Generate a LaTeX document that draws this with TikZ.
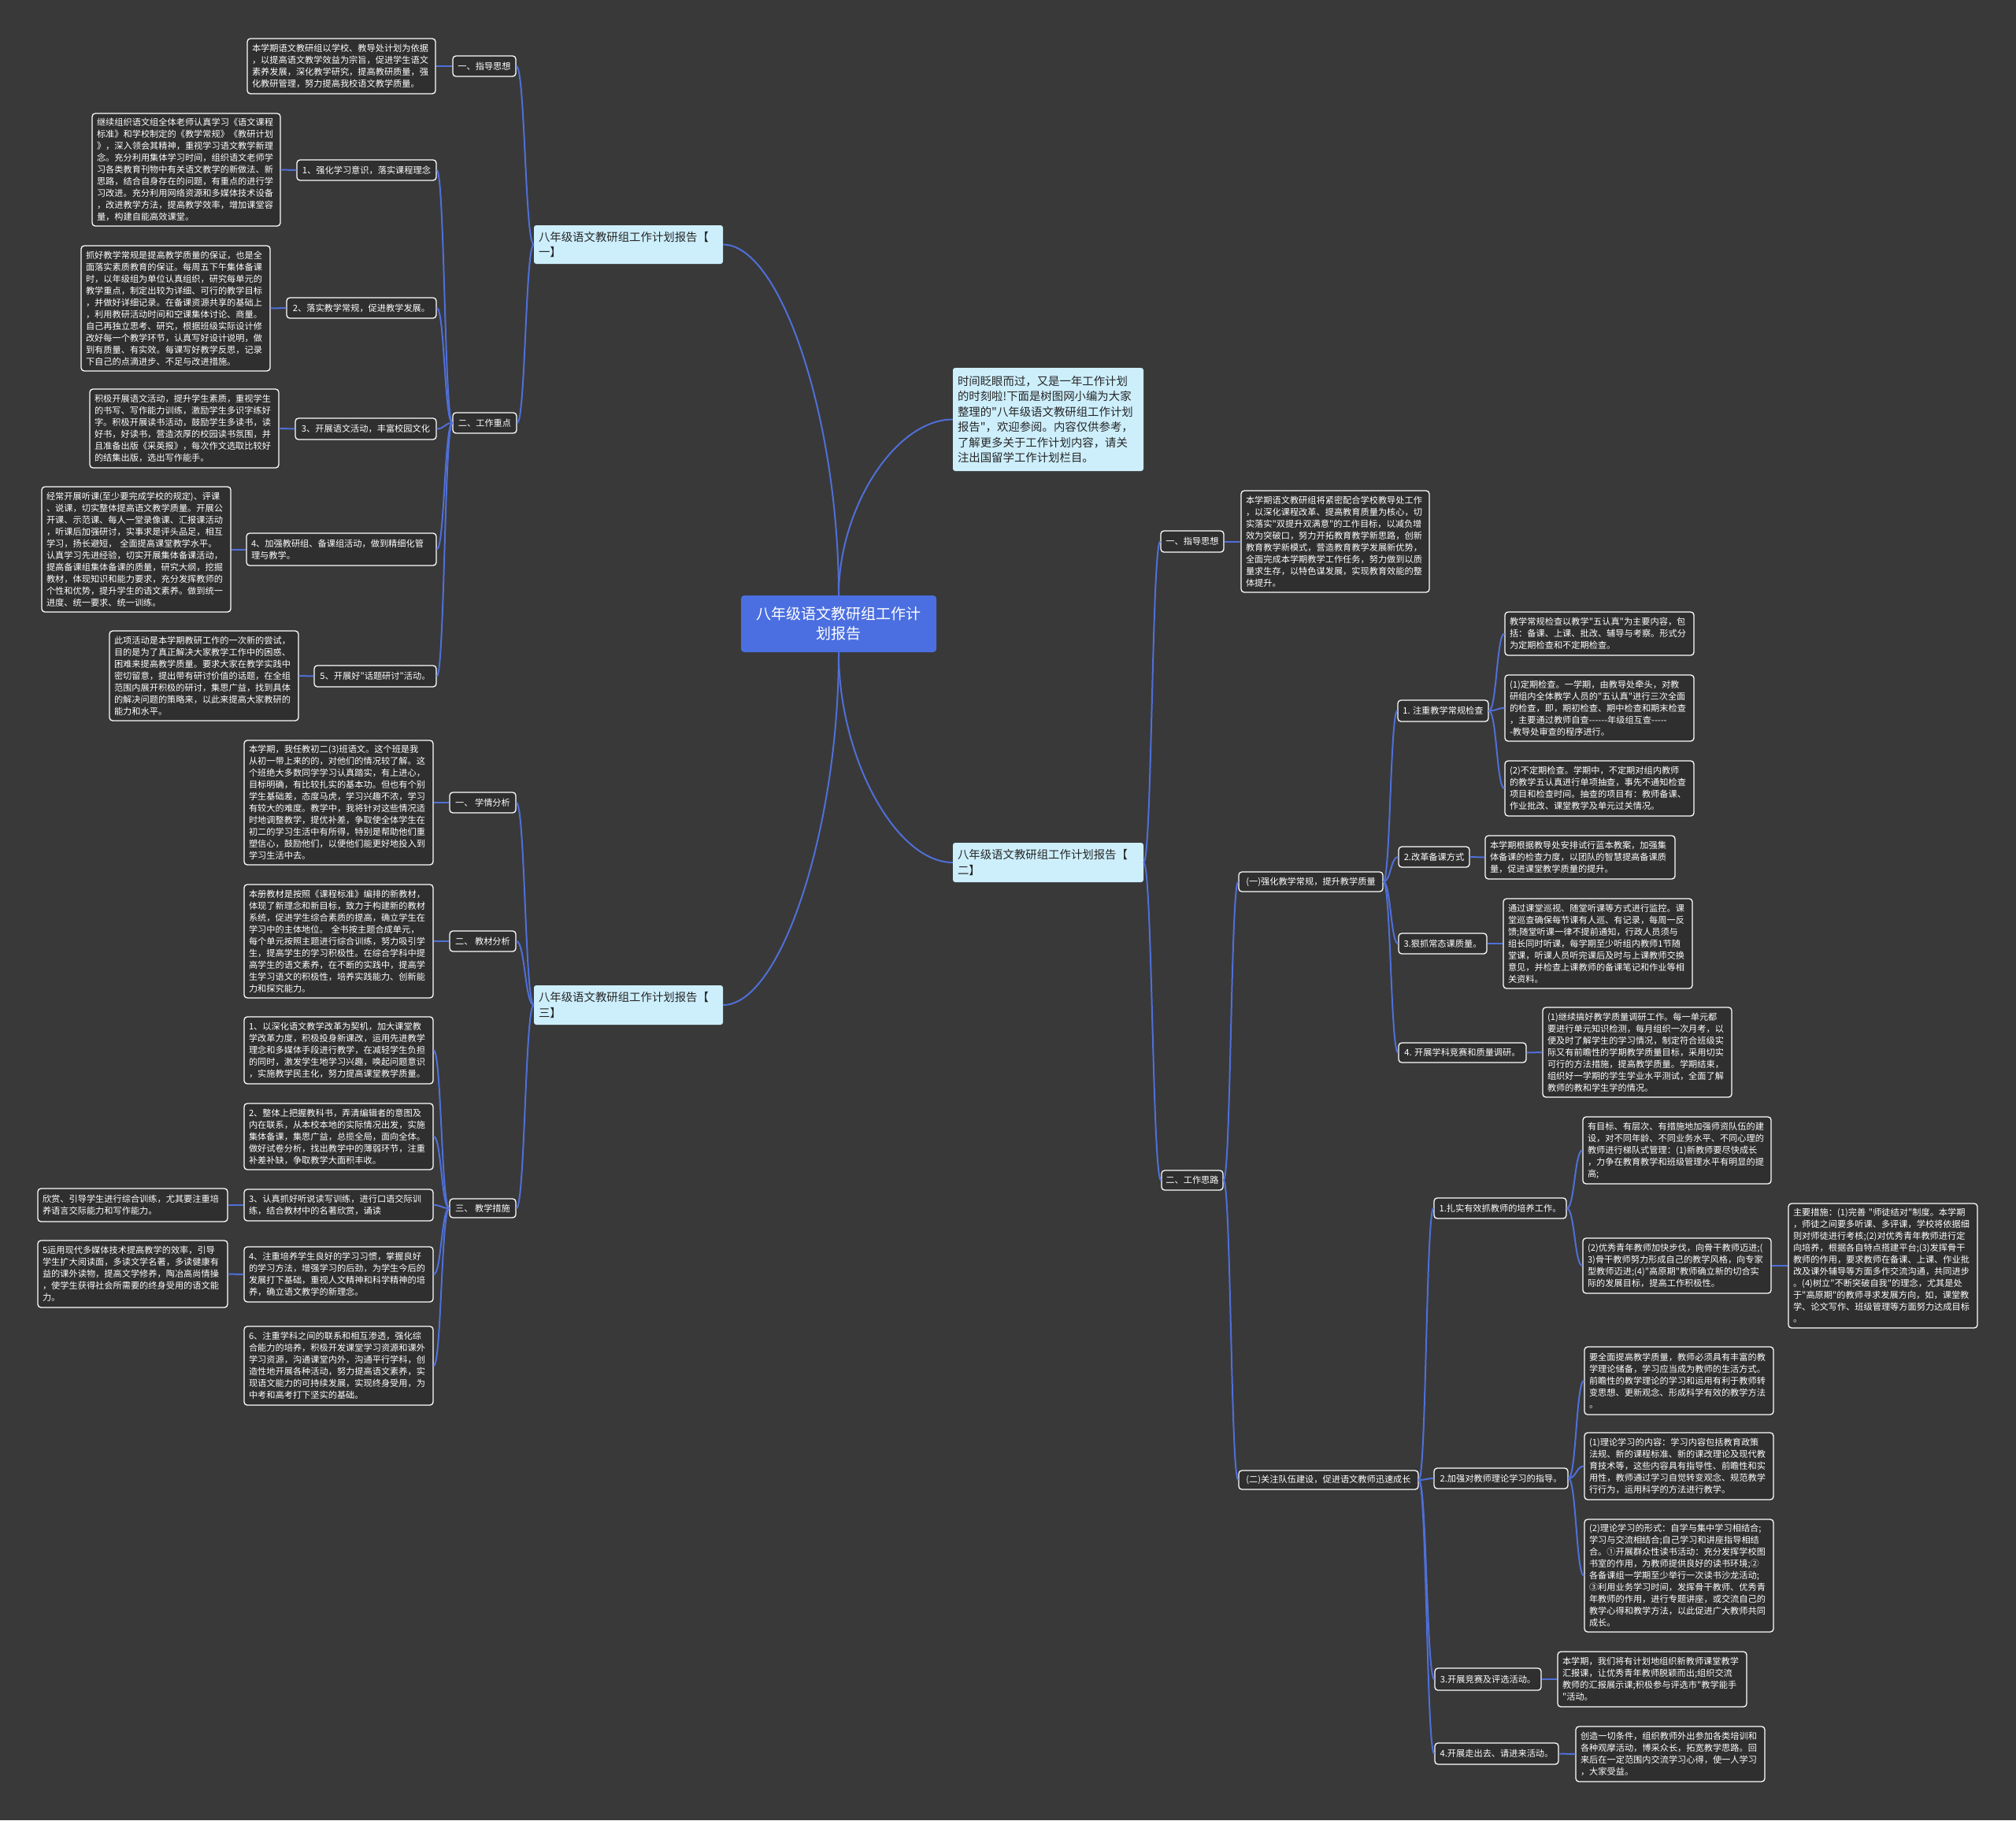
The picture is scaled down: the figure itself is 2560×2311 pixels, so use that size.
\documentclass[tikz,border=0pt]{standalone}
\usepackage{fontspec}
\newfontfamily\cjk{Noto Sans CJK SC}
\usetikzlibrary{calc}
\definecolor{bgcol}{HTML}{393939}
\definecolor{boxfill}{HTML}{2F2F2F}
\definecolor{linecol}{HTML}{4F6FD8}
\definecolor{rootblue}{HTML}{4B6FE0}
\definecolor{cyanfill}{HTML}{CDEFFC}
\tikzset{
  leaf/.style={draw=white, line width=1.3pt, fill=boxfill, rounded corners=4pt, text=white,
    font=\cjk\fontsize{11.2}{15}\selectfont, align=left, inner xsep=6pt, inner ysep=2pt},
  lab/.style={draw=white, line width=1.3pt, fill=boxfill, rounded corners=4pt, text=white,
    font=\cjk\fontsize{11.2}{15}\selectfont, inner xsep=4pt, inner ysep=2pt},
  lvl/.style={fill=cyanfill, rounded corners=3pt, text=black!85,
    font=\cjk\fontsize{14.4}{19.5}\selectfont, align=left, inner xsep=6pt, inner ysep=2pt},
  root/.style={fill=rootblue, rounded corners=4pt, text=white,
    font=\cjk\fontsize{19}{25}\selectfont, align=center},
  link/.style={draw=linecol, line width=2pt},
  conn/.style={to path={let \p1=(\tikztostart), \p2=(\tikztotarget) in
    .. controls ({(\x1+\x2)/2},\y1) and ({(\x1+\x2)/2},\y2) .. (\tikztotarget)}},
  connv/.style={to path={let \p1=(\tikztostart), \p2=(\tikztotarget) in
    .. controls (\x1,{(\y1+\y2)/2}) and ({(\x1+\x2)/2},\y2) .. (\tikztotarget)}},
}
\newcommand\mkbox[7]{%
  \pgfmathsetmacro\bxW{#5-#3}%
  \pgfmathsetmacro\bxT{#5-#3-12}%
  \pgfmathsetmacro\bxH{#6-#4}%
  \pgfmathsetmacro\bxX{(#3+#5)/2}%
  \pgfmathsetmacro\bxY{(#4+#6)/2}%
  \node[#1, text width=\bxT pt, minimum height=\bxH pt] (#2) at (\bxX,\bxY) {#7};}
\newcommand\mklab[6]{%
  \pgfmathsetmacro\bxW{#4-#2}%
  \pgfmathsetmacro\bxH{#5-#3}%
  \pgfmathsetmacro\bxX{(#2+#4)/2}%
  \pgfmathsetmacro\bxY{(#3+#5)/2}%
  \node[lab, minimum width=\bxW pt, minimum height=\bxH pt] (#1) at (\bxX,\bxY) {#6};}
\begin{document}
\begin{tikzpicture}[x=1pt,y=-1pt]
\fill[bgcol] (0,0) rectangle (2560,2311);
\useasboundingbox (0,0) rectangle (2560,2311);

% root and level 1
\node[root, minimum width=248pt, minimum height=72pt] (root) at (1065,792) {八年级语文教研组工作计\\划报告};
\mkbox{lvl}{n1}{678}{286}{918}{335}{八年级语文教研组工作计划报告【\\一】}
\mkbox{lvl}{n3}{678}{1251}{918}{1301}{八年级语文教研组工作计划报告【\\三】}
\mkbox{lvl}{n2}{1210}{1070}{1452}{1120}{八年级语文教研组工作计划报告【\\二】}
\mkbox{lvl}{intro}{1210}{467}{1452}{598}{时间眨眼而过，又是一年工作计划\\的时刻啦!下面是树图网小编为大家\\整理的"八年级语文教研组工作计划\\报告"，欢迎参阅。内容仅供参考，\\了解更多关于工作计划内容，请关\\注出国留学工作计划栏目。}

% ===== branch one (left top)
\mklab{lzd}{575}{71}{655}{97}{一、指导思想}
\mkbox{leaf}{tzd}{314}{49}{553}{119}{本学期语文教研组以学校、教导处计划为依据\\，以提高语文教学效益为宗旨，促进学生语文\\素养发展，深化教学研究，提高教研质量，强\\化教研管理，努力提高我校语文教学质量。}
\mklab{lgz}{575}{524}{656}{550}{二、工作重点}
\mklab{lq1}{377}{203}{554}{229}{1、强化学习意识，落实课程理念}
\mkbox{leaf}{tq1}{117}{144}{356}{287}{继续组织语文组全体老师认真学习《语文课程\\标准》和学校制定的《教学常规》《教研计划\\》，深入领会其精神，重视学习语文教学新理\\念。充分利用集体学习时间，组织语文老师学\\习各类教育刊物中有关语文教学的新做法、新\\思路，结合自身存在的问题，有重点的进行学\\习改进。充分利用网络资源和多媒体技术设备\\，改进教学方法，提高教学效率，增加课堂容\\量，构建自能高效课堂。}
\mklab{lq2}{364}{378}{554}{404}{2、落实教学常规，促进教学发展。}
\mkbox{leaf}{tq2}{103}{312}{343}{471}{抓好教学常规是提高教学质量的保证，也是全\\面落实素质教育的保证。每周五下午集体备课\\时，以年级组为单位认真组织，研究每单元的\\教学重点，制定出较为详细、可行的教学目标\\，并做好详细记录。在备课资源共享的基础上\\，利用教研活动时间和空课集体讨论、商量。\\自己再独立思考、研究，根据班级实际设计修\\改好每一个教学环节，认真写好设计说明，做\\到有质量、有实效。每课写好教学反思，记录\\下自己的点滴进步、不足与改进措施。}
\mklab{lq3}{375}{531}{554}{558}{3、开展语文活动，丰富校园文化}
\mkbox{leaf}{tq3}{114}{494}{354}{594}{积极开展语文活动，提升学生素质，重视学生\\的书写、写作能力训练，激励学生多识字练好\\字。积极开展读书活动，鼓励学生多读书，读\\好书，好读书，营造浓厚的校园读书氛围，并\\且准备出版《采英报》，每次作文选取比较好\\的结集出版，选出写作能手。}
\mkbox{leaf}{lq4}{313}{677}{554}{718}{4、加强教研组、备课组活动，做到精细化管\\理与教学。}
\mkbox{leaf}{tq4}{53}{618}{293}{777}{经常开展听课(至少要完成学校的规定)、评课\\、说课，切实整体提高语文教学质量。开展公\\开课、示范课、每人一堂录像课、汇报课活动\\，听课后加强研讨，实事求是评头品足，相互\\学习，扬长避短， 全面提高课堂教学水平。\\认真学习先进经验，切实开展集体备课活动，\\提高备课组集体备课的质量，研究大纲，挖掘\\教材，体现知识和能力要求，充分发挥教师的\\个性和优势，提升学生的语文素养。做到统一\\进度、统一要求、统一训练。}
\mklab{lq5}{399}{845}{554}{872}{5、开展好"话题研讨"活动。}
\mkbox{leaf}{tq5}{139}{801}{379}{915}{此项活动是本学期教研工作的一次新的尝试，\\目的是为了真正解决大家教学工作中的困惑、\\困难来提高教学质量。要求大家在教学实践中\\密切留意，提出带有研讨价值的话题，在全组\\范围内展开积极的研讨，集思广益，找到具体\\的解决问题的策略来，以此来提高大家教研的\\能力和水平。}

% ===== branch three (left bottom)
\mklab{lxq}{571}{1006}{655}{1032}{一、 学情分析}
\mkbox{leaf}{txq}{310}{940}{550}{1098}{本学期，我任教初二(3)班语文。这个班是我\\从初一带上来的的，对他们的情况较了解。这\\个班绝大多数同学学习认真踏实，有上进心，\\目标明确，有比较扎实的基本功。但也有个别\\学生基础差，态度马虎，学习兴趣不浓，学习\\有较大的难度。教学中，我将针对这些情况适\\时地调整教学，提优补差，争取使全体学生在\\初二的学习生活中有所得，特别是帮助他们重\\塑信心，鼓励他们，以便他们能更好地投入到\\学习生活中去。}
\mklab{ljc}{571}{1182}{655}{1208}{二、 教材分析}
\mkbox{leaf}{tjc}{310}{1123}{550}{1267}{本册教材是按照《课程标准》编排的新教材，\\体现了新理念和新目标，致力于构建新的教材\\系统，促进学生综合素质的提高，确立学生在\\学习中的主体地位。 全书按主题合成单元，\\每个单元按照主题进行综合训练，努力吸引学\\生，提高学生的学习积极性。在综合学科中提\\高学生的语文素养，在不断的实践中，提高学\\生学习语文的积极性，培养实践能力、创新能\\力和探究能力。}
\mklab{ljx}{571}{1522}{655}{1546}{三、 教学措施}
\mkbox{leaf}{m1}{310}{1291}{550}{1376}{1、以深化语文教学改革为契机，加大课堂教\\学改革力度，积极投身新课改，运用先进教学\\理念和多媒体手段进行教学，在减轻学生负担\\的同时，激发学生地学习兴趣，唤起问题意识\\，实施教学民主化，努力提高课堂教学质量。}
\mkbox{leaf}{m2}{310}{1401}{550}{1485}{2、整体上把握教科书，弄清编辑者的意图及\\内在联系，从本校本地的实际情况出发，实施\\集体备课，集思广益，总揽全局，面向全体。\\做好试卷分析，找出教学中的薄弱环节，注重\\补差补缺，争取教学大面积丰收。}
\mkbox{leaf}{m3}{310}{1510}{550}{1550}{3、认真抓好听说读写训练，进行口语交际训\\练，结合教材中的名著欣赏，诵读}
\mkbox{leaf}{m4}{310}{1583}{550}{1653}{4、注重培养学生良好的学习习惯，掌握良好\\的学习方法，增强学习的后劲，为学生今后的\\发展打下基础，重视人文精神和科学精神的培\\养，确立语文教学的新理念。}
\mkbox{leaf}{m6}{310}{1684}{550}{1784}{6、注重学科之间的联系和相互渗透，强化综\\合能力的培养，积极开发课堂学习资源和课外\\学习资源，沟通课堂内外，沟通平行学科，创\\造性地开展各种活动，努力提高语文素养，实\\现语文能力的可持续发展，实现终身受用，为\\中考和高考打下坚实的基础。}
\mkbox{leaf}{m3b}{48}{1509}{289}{1551}{欣赏、引导学生进行综合训练，尤其要注重培\\养语言交际能力和写作能力。}
\mkbox{leaf}{m4b}{48}{1575}{289}{1660}{5运用现代多媒体技术提高教学的效率，引导\\学生扩大阅读面，多读文学名著，多读健康有\\益的课外读物，提高文学修养，陶冶高尚情操\\，使学生获得社会所需要的终身受用的语文能\\力。}

% ===== branch two (right)
\mklab{rzd}{1474}{674}{1554}{701}{一、指导思想}
\mkbox{leaf}{trzd}{1576}{623}{1815}{752}{本学期语文教研组将紧密配合学校教导处工作\\，以深化课程改革、提高教育质量为核心，切\\实落实"双提升双满意"的工作目标，以减负增\\效为突破口，努力开拓教育教学新思路，创新\\教育教学新模式，营造教育教学发展新优势，\\全面完成本学期教学工作任务，努力做到以质\\量求生存，以特色谋发展，实现教育效能的整\\体提升。}
\mklab{rgz}{1475}{1486}{1553}{1511}{二、工作思路}
\mklab{r1}{1573}{1107}{1756}{1132}{(一)强化教学常规，提升教学质量}
\mklab{r2}{1573}{1867}{1801}{1891}{(二)关注队伍建设，促进语文教师迅速成长}

\mklab{r11}{1775}{889}{1890}{916}{1. 注重教学常规检查}
\mkbox{leaf}{r11a}{1911}{777}{2151}{832}{教学常规检查以教学"五认真"为主要内容，包\\括：备课、上课、批改、辅导与考察。形式分\\为定期检查和不定期检查。}
\mkbox{leaf}{r11b}{1911}{857}{2151}{941}{(1)定期检查。一学期，由教导处牵头，对教\\研组内全体教学人员的"五认真"进行三次全面\\的检查，即，期初检查、期中检查和期末检查\\，主要通过教师自查------年级组互查-----\\-教导处审查的程序进行。}
\mkbox{leaf}{r11c}{1911}{966}{2151}{1036}{(2)不定期检查。学期中，不定期对组内教师\\的教学五认真进行单项抽查，事先不通知检查\\项目和检查时间。抽查的项目有：教师备课、\\作业批改、课堂教学及单元过关情况。}
\mklab{r12}{1776}{1075}{1866}{1101}{2.改革备课方式}
\mkbox{leaf}{r12a}{1886}{1061}{2127}{1116}{本学期根据教导处安排试行蓝本教案，加强集\\体备课的检查力度，以团队的智慧提高备课质\\量，促进课堂教学质量的提升。}
\mklab{r13}{1776}{1185}{1888}{1211}{3.狠抓常态课质量。}
\mkbox{leaf}{r13a}{1909}{1141}{2149}{1255}{通过课堂巡视、随堂听课等方式进行监控。课\\堂巡查确保每节课有人巡、有记录，每周一反\\馈;随堂听课一律不提前通知，行政人员须与\\组长同时听课，每学期至少听组内教师1节随\\堂课，听课人员听完课后及时与上课教师交换\\意见，并检查上课教师的备课笔记和作业等相\\关资料。}
\mklab{r14}{1776}{1324}{1938}{1349}{4. 开展学科竞赛和质量调研。}
\mkbox{leaf}{r14a}{1959}{1279}{2199}{1393}{(1)继续搞好教学质量调研工作。每一单元都\\要进行单元知识检测，每月组织一次月考，以\\便及时了解学生的学习情况，制定符合班级实\\际又有前瞻性的学期教学质量目标，采用切实\\可行的方法措施，提高教学质量。学期结束，\\组织好一学期的学生学业水平测试，全面了解\\教师的教和学生学的情况。}

\mklab{r21}{1821}{1521}{1989}{1547}{1.扎实有效抓教师的培养工作。}
\mkbox{leaf}{r21a}{2010}{1418}{2249}{1503}{有目标、有层次、有措施地加强师资队伍的建\\设，对不同年龄、不同业务水平、不同心理的\\教师进行梯队式管理：(1)新教师要尽快成长\\，力争在教育教学和班级管理水平有明显的提\\高;}
\mkbox{leaf}{r21b}{2010}{1572}{2249}{1642}{(2)优秀青年教师加快步伐，向骨干教师迈进;(\\3)骨干教师努力形成自己的教学风格，向专家\\型教师迈进;(4)"高原期"教师确立新的切合实\\际的发展目标，提高工作积极性。}
\mkbox{leaf}{r21c}{2271}{1528}{2511}{1686}{主要措施：(1)完善 "师徒结对"制度。本学期\\，师徒之间要多听课、多评课，学校将依据细\\则对师徒进行考核;(2)对优秀青年教师进行定\\向培养，根据各自特点搭建平台;(3)发挥骨干\\教师的作用，要求教师在备课、上课、作业批\\改及课外辅导等方面多作交流沟通，共同进步\\。(4)树立"不断突破自我"的理念，尤其是处\\于"高原期"的教师寻求发展方向，如，课堂教\\学、论文写作、班级管理等方面努力达成目标\\。}
\mklab{r22}{1821}{1864}{1991}{1890}{2.加强对教师理论学习的指导。}
\mkbox{leaf}{r22a}{2012}{1710}{2252}{1796}{要全面提高教学质量，教师必须具有丰富的教\\学理论储备，学习应当成为教师的生活方式。\\前瞻性的教学理论的学习和运用有利于教师转\\变思想、更新观念、形成科学有效的教学方法\\。}
\mkbox{leaf}{r22b}{2012}{1819}{2252}{1904}{(1)理论学习的内容：学习内容包括教育政策\\法规、新的课程标准、新的课改理论及现代教\\育技术等，这些内容具有指导性、前瞻性和实\\用性，教师通过学习自觉转变观念、规范教学\\行行为，运用科学的方法进行教学。}
\mkbox{leaf}{r22c}{2012}{1929}{2252}{2072}{(2)理论学习的形式：自学与集中学习相结合;\\学习与交流相结合;自己学习和讲座指导相结\\合。①开展群众性读书活动：充分发挥学校图\\书室的作用，为教师提供良好的读书环境;②\\各备课组一学期至少举行一次读书沙龙活动;\\③利用业务学习时间，发挥骨干教师、优秀青\\年教师的作用，进行专题讲座，或交流自己的\\教学心得和教学方法，以此促进广大教师共同\\成长。}
\mklab{r23}{1822}{2118}{1957}{2146}{3.开展竞赛及评选活动。}
\mkbox{leaf}{r23a}{1978}{2097}{2218}{2167}{本学期，我们将有计划地组织新教师课堂教学\\汇报课，让优秀青年教师脱颖而出;组织交流\\教师的汇报展示课;积极参与评选市"教学能手\\"活动。}
\mklab{r24}{1822}{2213}{1979}{2240}{4.开展走出去、请进来活动。}
\mkbox{leaf}{r24a}{2001}{2192}{2241}{2262}{创造一切条件，组织教师外出参加各类培训和\\各种观摩活动，博采众长，拓宽教学思路。回\\来后在一定范围内交流学习心得，使一人学习\\，大家受益。}

% ===== connectors
\draw[link] (root.north) to[connv] (n1.east);
\draw[link] (root.north) to[connv] (intro.west);
\draw[link] (root.south) to[connv] (n3.east);
\draw[link] (root.south) to[connv] (n2.west);

\draw[link] (n1.west) to[conn] (lzd.east);
\draw[link] (n1.west) to[conn] (lgz.east);
\draw[link] (lzd.west) to[conn] (tzd.east);
\foreach \a/\b in {lq1/tq1,lq2/tq2,lq3/tq3,lq4/tq4,lq5/tq5}{
  \draw[link] (lgz.west) to[conn] (\a.east);
  \draw[link] (\a.west) to[conn] (\b.east);
}

\draw[link] (n3.west) to[conn] (lxq.east);
\draw[link] (n3.west) to[conn] (ljc.east);
\draw[link] (n3.west) to[conn] (ljx.east);
\draw[link] (lxq.west) to[conn] (txq.east);
\draw[link] (ljc.west) to[conn] (tjc.east);
\foreach \a in {m1,m2,m3,m4,m6}{
  \draw[link] (ljx.west) to[conn] (\a.east);
}
\draw[link] (m3.west) to[conn] (m3b.east);
\draw[link] (m4.west) to[conn] (m4b.east);

\draw[link] (n2.east) to[conn] (rzd.west);
\draw[link] (n2.east) to[conn] (rgz.west);
\draw[link] (rzd.east) to[conn] (trzd.west);
\draw[link] (rgz.east) to[conn] (r1.west);
\draw[link] (rgz.east) to[conn] (r2.west);
\foreach \a in {r11,r12,r13,r14}{
  \draw[link] (r1.east) to[conn] (\a.west);
}
\foreach \a in {r11a,r11b,r11c}{
  \draw[link] (r11.east) to[conn] (\a.west);
}
\draw[link] (r12.east) to[conn] (r12a.west);
\draw[link] (r13.east) to[conn] (r13a.west);
\draw[link] (r14.east) to[conn] (r14a.west);
\foreach \a in {r21,r22,r23,r24}{
  \draw[link] (r2.east) to[conn] (\a.west);
}
\draw[link] (r21.east) to[conn] (r21a.west);
\draw[link] (r21.east) to[conn] (r21b.west);
\draw[link] (r21b.east) to[conn] (r21c.west);
\foreach \a in {r22a,r22b,r22c}{
  \draw[link] (r22.east) to[conn] (\a.west);
}
\draw[link] (r23.east) to[conn] (r23a.west);
\draw[link] (r24.east) to[conn] (r24a.west);
\end{tikzpicture}
\end{document}
